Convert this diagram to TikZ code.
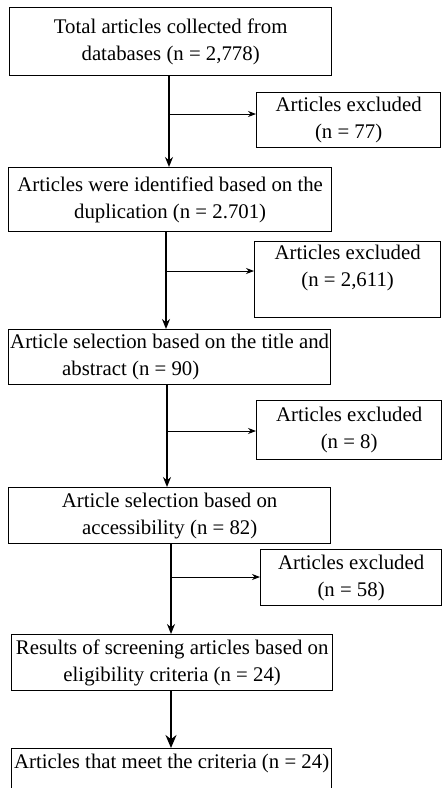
\documentclass[tikz,border=0pt]{standalone}
\usepackage{fontspec}
\setmainfont{Liberation Serif}
\usetikzlibrary{arrows.meta}
\begin{document}
\begin{tikzpicture}[x=1pt,y=-1pt,
  box/.style={draw, line width=1.3pt, anchor=north west, inner sep=0pt, align=center, font=\fontsize{20.8}{27}\selectfont},
  mainarr/.style={line width=2pt, -{Stealth[length=10pt,width=8pt]}},
  lastarr/.style={line width=2.4pt, -{Stealth[length=13pt,width=11pt]}},
  sidearr/.style={line width=0.8pt, -{Stealth[length=8pt,width=6pt]}},
]
\useasboundingbox (0,0) rectangle (442,788);
\fill[white] (0,0) rectangle (442,788);
\clip (0,0) rectangle (442,788);

\node[box, minimum width=322, minimum height=68] (b1) at (9,7) {Total articles collected from\\databases (n = 2,778)};
\node[box, minimum width=323, minimum height=64] (b2) at (8,167) {Articles were identified based on the\\duplication (n = 2.701)};
\node[box, minimum width=322, minimum height=55, align=left, inner xsep=1pt] (b3) at (8,329) {Article selection based on the title and\\\hspace*{52pt}abstract (n = 90)};
\node[box, minimum width=322, minimum height=56] (b4) at (8,487) {Article selection based on\\accessibility (n = 82)};
\node[box, minimum width=321, minimum height=56] (b5) at (11,634) {Results of screening articles based on\\eligibility criteria (n = 24)};
\node[box, minimum width=320, text height=20pt, text depth=60pt] (b6) at (11,748) {Articles that meet the criteria (n = 24)};

\node[box, minimum width=184, minimum height=55] (e1) at (256,92) {Articles excluded\\(n = 77)};
\node[box, minimum width=186, minimum height=76] (e2) at (254,241) {Articles excluded\\(n = 2,611)\\ \mbox{}};
\node[box, minimum width=185, minimum height=59] (e3) at (256,400) {Articles excluded\\(n = 8)};
\node[box, minimum width=181, minimum height=56] (e4) at (260,549) {Articles excluded\\(n = 58)};

\coordinate (j1) at (169,114);
\coordinate (j2) at (166,271);
\coordinate (j3) at (167,431);
\coordinate (j4) at (171,577);
\coordinate (j5) at (171,700);

\draw[mainarr] (b1.south -| j1) -- (b2.north -| j1);
\draw[sidearr] (j1) -- (e1.west |- j1);
\draw[mainarr] (b2.south -| j2) -- (b3.north -| j2);
\draw[sidearr] (j2) -- (e2.west |- j2);
\draw[mainarr] (b3.south -| j3) -- (b4.north -| j3);
\draw[sidearr] (j3) -- (e3.west |- j3);
\draw[mainarr] (b4.south -| j4) -- (b5.north -| j4);
\draw[sidearr] (j4) -- (e4.west |- j4);
\draw[lastarr] (b5.south -| j5) -- (b6.north -| j5);
\end{tikzpicture}
\end{document}
